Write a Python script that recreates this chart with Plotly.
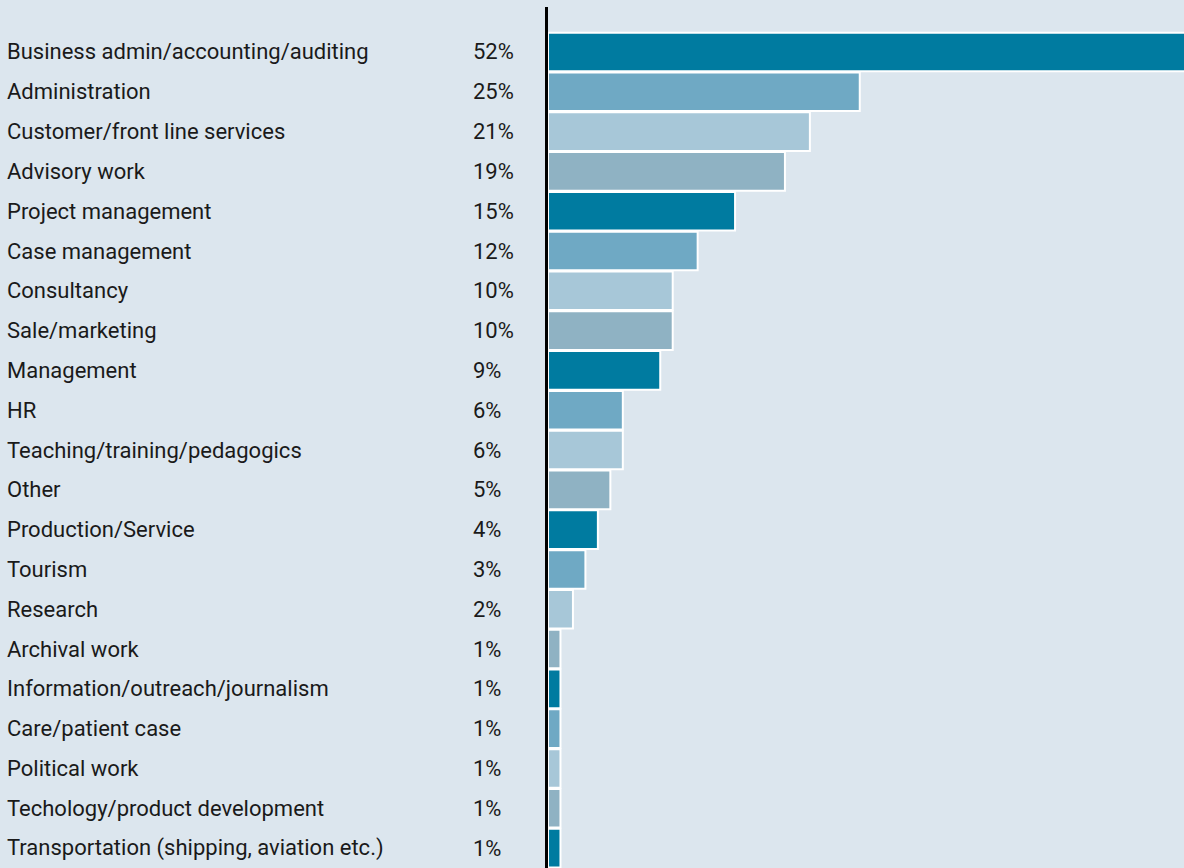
import plotly.graph_objects as go

categories = [
    "Business admin/accounting/auditing",
    "Administration",
    "Customer/front line services",
    "Advisory work",
    "Project management",
    "Case management",
    "Consultancy",
    "Sale/marketing",
    "Management",
    "HR",
    "Teaching/training/pedagogics",
    "Other",
    "Production/Service",
    "Tourism",
    "Research",
    "Archival work",
    "Information/outreach/journalism",
    "Care/patient case",
    "Political work",
    "Techology/product development",
    "Transportation (shipping, aviation etc.)",
]
shares = [52, 25, 21, 19, 15, 12, 10, 10, 9, 6, 6, 5, 4, 3, 2, 1, 1, 1, 1, 1, 1]
palette = ["#007BA0", "#6FA9C4", "#A7C7D8", "#8FB2C3"]

BG = "#DCE6EE"
TEXT = "#1A1A1A"
FONT = "Roboto"
LEFT = 548  # left edge of the plot area, px
NAME_X = 4.5  # x position of the category names, px
PCT_X = 471   # x position of the percentage labels, px

colors = [palette[i % len(palette)] for i in range(len(categories))]
idx = list(range(len(categories)))

fig = go.Figure(
    go.Bar(
        x=shares,
        y=idx,
        orientation="h",
        marker=dict(color=colors, line=dict(color="white", width=2)),
        hoverinfo="skip",
    )
)

annotations = []
for i, (name, val) in enumerate(zip(categories, shares)):
    annotations.append(dict(
        x=0, xref="paper", xshift=NAME_X - LEFT, y=i, yref="y", text=name,
        showarrow=False, xanchor="left", yanchor="middle",
        font=dict(family=FONT, size=22, color=TEXT),
    ))
    annotations.append(dict(
        x=0, xref="paper", xshift=PCT_X - LEFT, y=i, yref="y", text=f"{val}%",
        showarrow=False, xanchor="left", yanchor="middle",
        font=dict(family=FONT, size=22, color=TEXT),
    ))

fig.update_layout(
    width=1184, height=868,
    margin=dict(l=LEFT, r=0, t=7, b=0),
    paper_bgcolor=BG, plot_bgcolor=BG,
    bargap=0.03,
    showlegend=False,
    xaxis=dict(range=[0, 51.0], visible=False, fixedrange=True),
    yaxis=dict(
        range=[20.5, -1.13], showticklabels=False, showgrid=False,
        zeroline=False, showline=True, linecolor="black", linewidth=3,
        ticks="", fixedrange=True,
    ),
    annotations=annotations,
)

fig.write_html("out.html")
